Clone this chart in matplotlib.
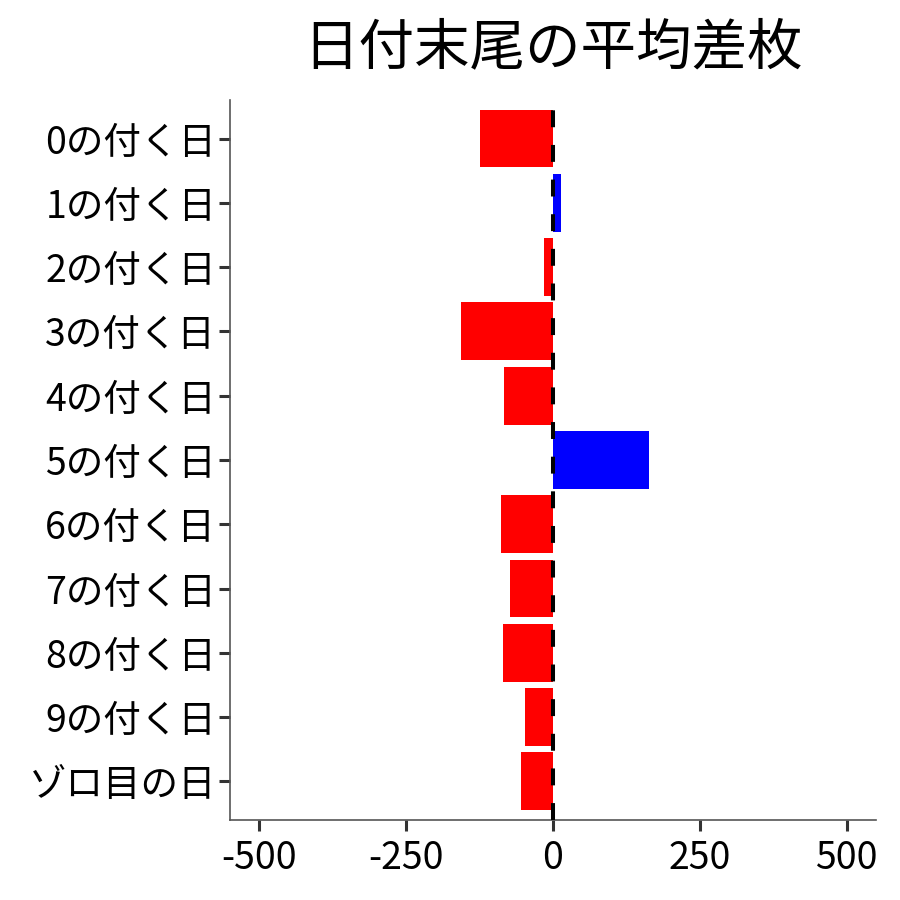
import matplotlib
matplotlib.use("Agg")
import matplotlib.pyplot as plt

plt.rcParams['font.family'] = ['Noto Sans CJK JP', 'DejaVu Sans']

categories = ["0の付く日", "1の付く日", "2の付く日", "3の付く日", "4の付く日",
              "5の付く日", "6の付く日", "7の付く日", "8の付く日", "9の付く日", "ゾロ目の日"]
values = [-124, 13, -15, -156, -83, 164, -88, -73, -85, -48, -54]
xticks = [-500, -250, 0, 250, 500]
title = "日付末尾の平均差枚"

colors = ["#0000FF" if v > 0 else "#FF0000" for v in values]

fig = plt.figure(figsize=(9, 9), dpi=100)
ax = fig.add_axes([0.2556, 0.0889, 0.7177, 0.8000])

n = len(categories)
pos = list(range(n))
ax.barh(pos, values, height=0.9, color=colors, zorder=2)
ax.axvline(0, color="black", linewidth=2.9, linestyle=(0, (4.2, 4.4)), zorder=3)

ax.set_ylim(n - 1 + 0.6, -0.6)
ax.set_xlim(-550, 550)
ax.set_yticks(pos)
ax.set_yticklabels(categories)
ax.set_xticks(xticks)
ax.set_xticklabels([str(t) for t in xticks])

for s in ["top", "right"]:
    ax.spines[s].set_visible(False)
for s in ["left", "bottom"]:
    ax.spines[s].set_color("#555555")
    ax.spines[s].set_linewidth(1.2)

ax.tick_params(axis="both", colors="#333333", length=8, width=2.2, labelsize=27,
               labelcolor="black")
ax.tick_params(axis="x", pad=6)
ax.tick_params(axis="y", pad=2)

ax.set_title(title, fontsize=40, pad=26)

fig.savefig("out.png", dpi=100)
